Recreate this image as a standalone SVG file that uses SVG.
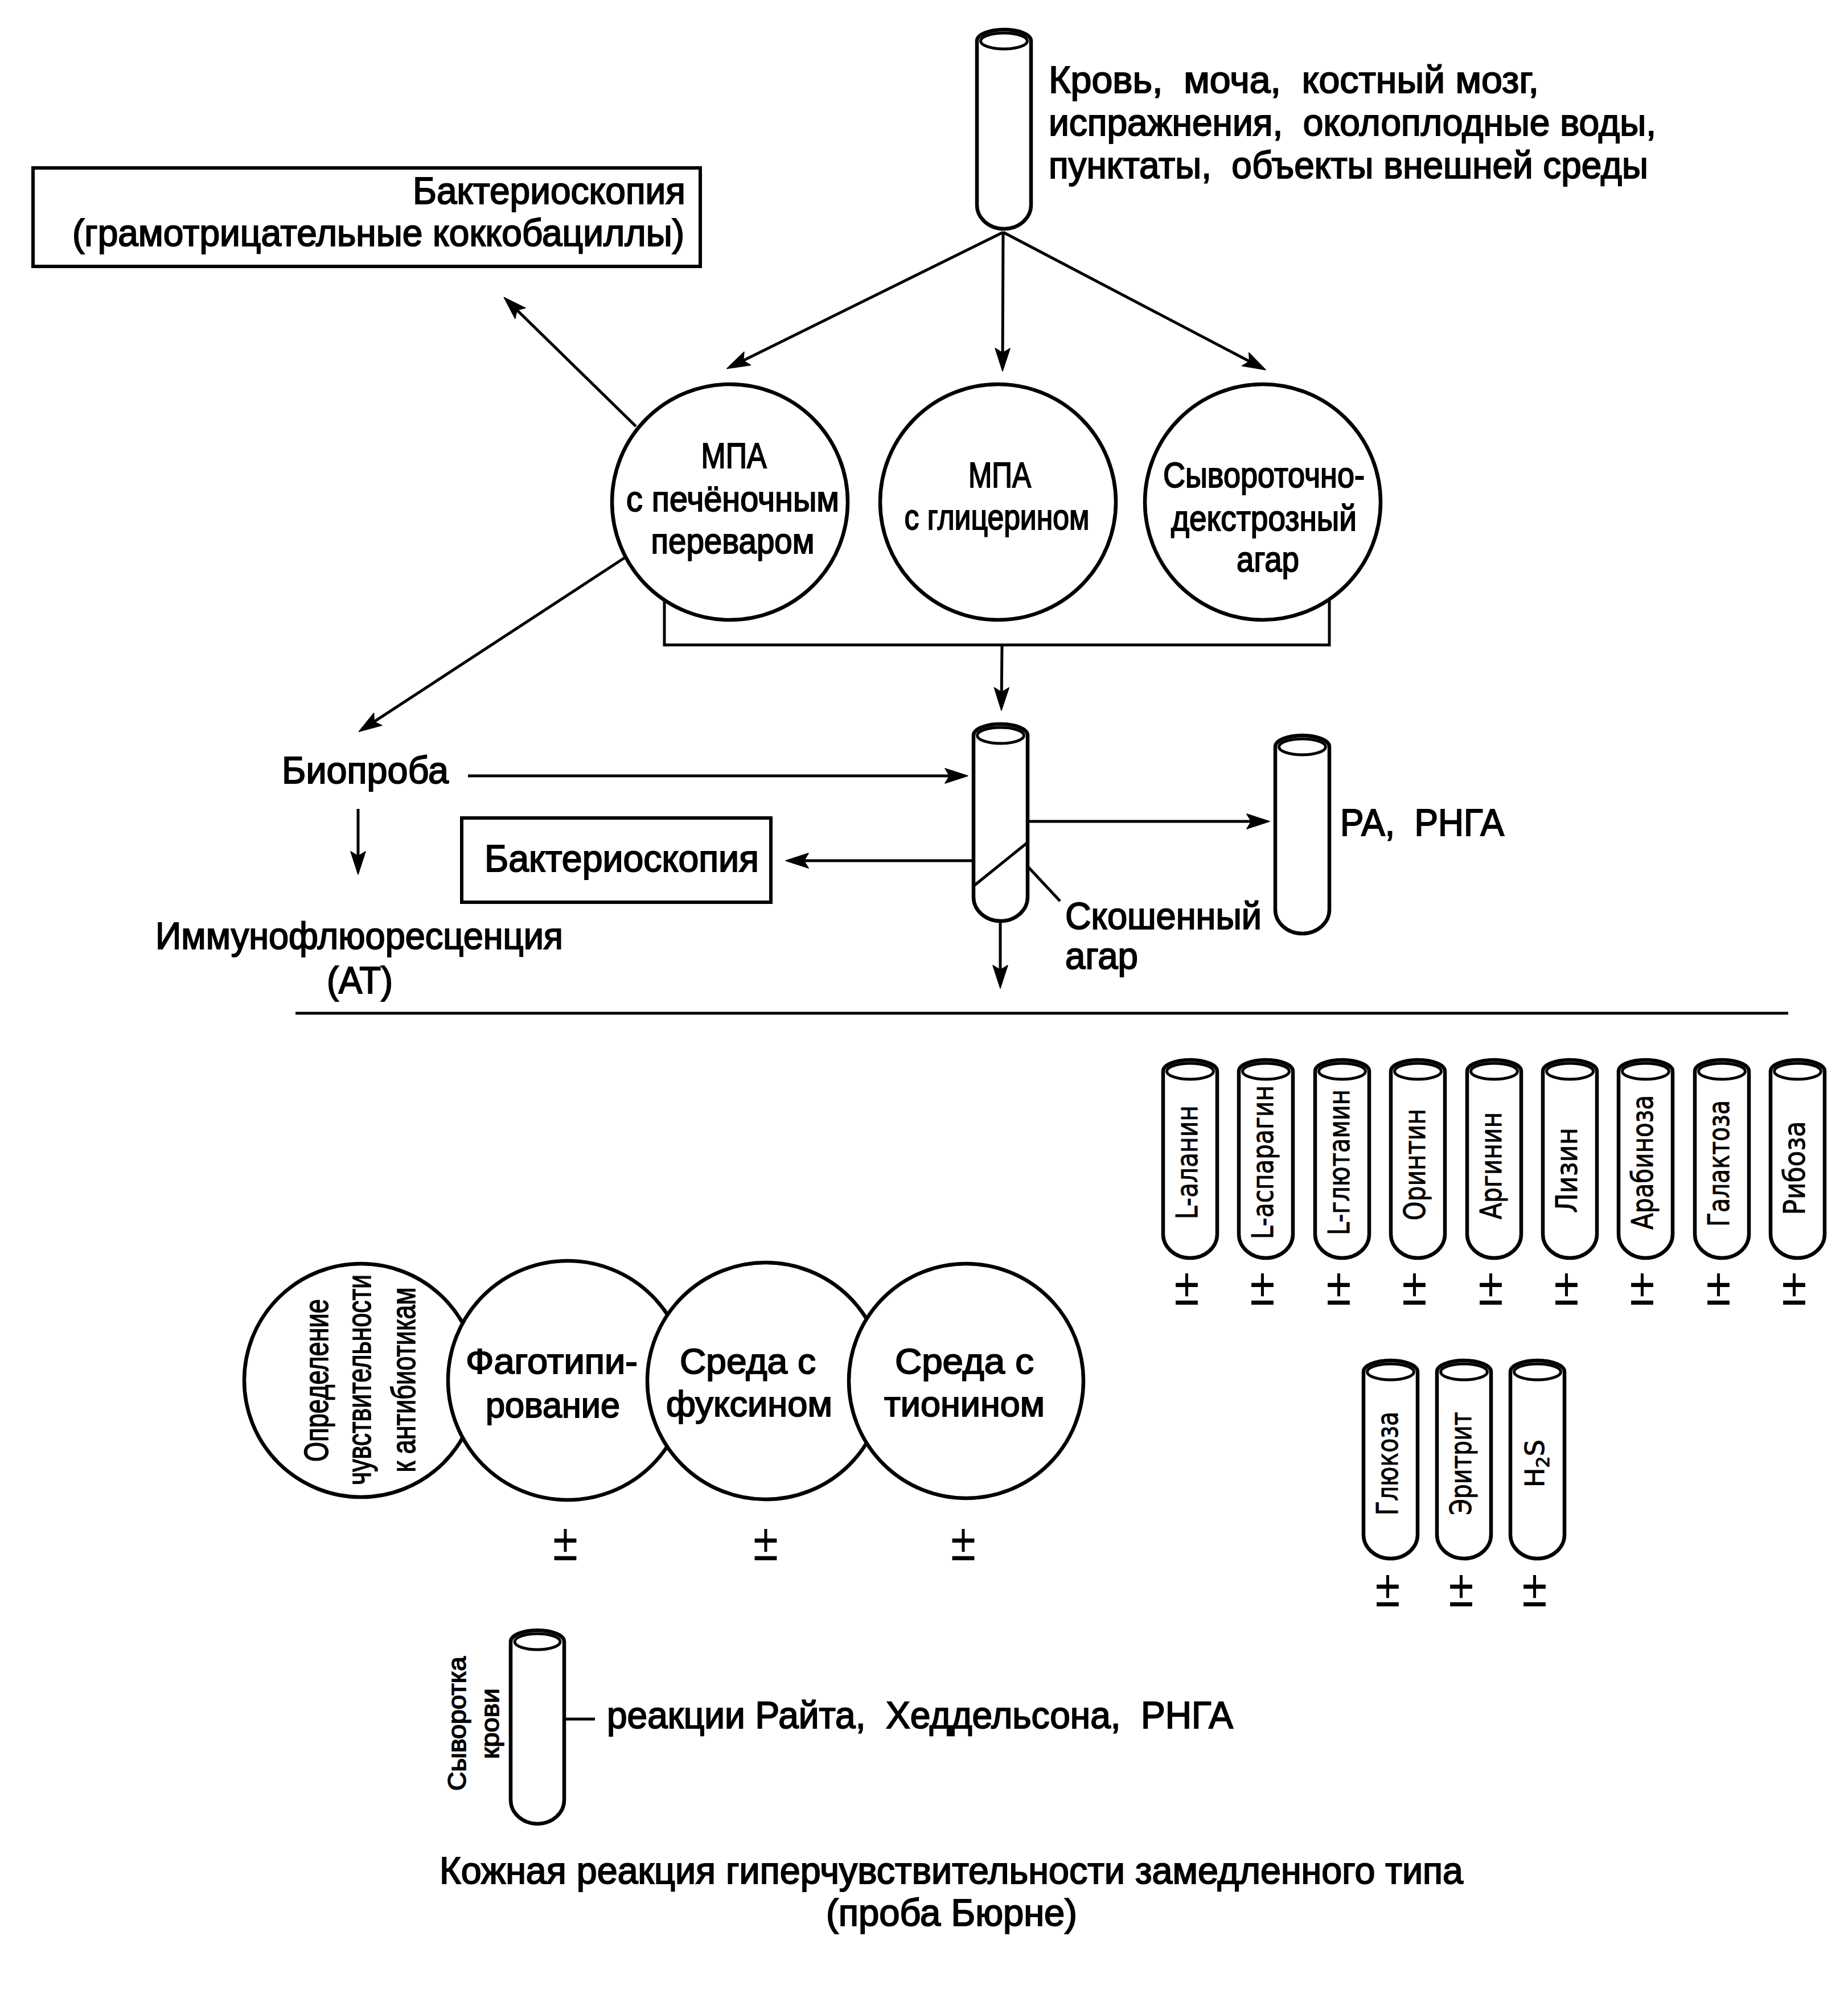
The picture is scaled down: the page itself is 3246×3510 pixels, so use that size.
<svg xmlns="http://www.w3.org/2000/svg" width="3246" height="3510" viewBox="0 0 3246 3510" xml:space="preserve">
<style>
.t{font-family:"Liberation Sans",Arial,sans-serif;font-size:66px;fill:#000;stroke:#000;stroke-width:2px;white-space:pre}
.c{font-family:"Liberation Sans",Arial,sans-serif;font-size:63px;fill:#000;stroke:#000;stroke-width:2px;white-space:pre}
.v{font-family:"Liberation Sans",Arial,sans-serif;font-size:60px;fill:#000;stroke:#000;stroke-width:1.6px}
.r{font-family:"DejaVu Sans",sans-serif;font-size:52px;fill:#000;stroke:#000;stroke-width:1px}
.sg{font-family:"DejaVu Sans",sans-serif;font-size:62px;fill:#000;text-anchor:middle}
.ln{stroke:#000;stroke-width:5;fill:none}
.ar{stroke:#000;stroke-width:5;fill:none;marker-end:url(#ah)}
.tube{fill:#fff;stroke:#000;stroke-width:6.5;stroke-linejoin:round}
.rim{fill:#fff;stroke:#000;stroke-width:5}
.circ{fill:#fff;stroke:#000;stroke-width:6.5}
.box{fill:#fff;stroke:#000;stroke-width:6}
</style>
<defs>
<marker id="ah" markerUnits="userSpaceOnUse" markerWidth="44" markerHeight="30" refX="32" refY="15" orient="auto" overflow="visible">
<path d="M0,2 L40,15 L0,28 L8,15 Z" fill="#000" stroke="#000" stroke-width="1.5" stroke-linejoin="round"/>
</marker>
</defs>
<rect width="3246" height="3510" fill="#fff"/>

<g id="connectors">
<line class="ar" x1="1762" y1="408" x2="1284" y2="644"/>
<line class="ar" x1="1762" y1="408" x2="1761" y2="644"/>
<line class="ar" x1="1762" y1="408" x2="2216" y2="646"/>
<line class="ar" x1="1117" y1="749" x2="891" y2="528"/>
<line class="ar" x1="1100" y1="978" x2="637" y2="1281"/>
<polyline class="ln" points="1167,1054 1167,1133 2335,1133 2335,1053"/>
<line class="ar" x1="1760" y1="1133" x2="1759" y2="1240"/>
<line class="ar" x1="822" y1="1363" x2="1692" y2="1363"/>
<line class="ar" x1="629" y1="1421" x2="629" y2="1528"/>
<line class="ar" x1="1710" y1="1512" x2="1388" y2="1512"/>
<line class="ar" x1="1757" y1="1618" x2="1757" y2="1728"/>
<line class="ar" x1="1805" y1="1443" x2="2222" y2="1443"/>
<line class="ln" x1="1805" y1="1522" x2="1862" y2="1583"/>
<line class="ln" x1="991" y1="3020" x2="1045" y2="3020"/>
<line class="ln" x1="519" y1="1780" x2="3141" y2="1780" stroke-width="6"/>
</g>

<g id="sample-tube">
<path class="tube" d="M1716,72 L1716,360 A47.5,42 0 0 0 1811,360 L1811,72 A47.5,20 0 0 0 1716,72 Z"/>
<ellipse class="rim" cx="1763.5" cy="72" rx="41" ry="14"/>
<text class="t" x="1842" y="163" textLength="861" lengthAdjust="spacingAndGlyphs">Кровь,  моча,  костный мозг,</text>
<text class="t" x="1842" y="238" textLength="1067" lengthAdjust="spacingAndGlyphs">испражнения,  околоплодные воды,</text>
<text class="t" x="1842" y="313" textLength="1053" lengthAdjust="spacingAndGlyphs">пунктаты,  объекты внешней среды</text>
</g>

<g id="bacterioscopy-1">
<rect class="box" x="58" y="295" width="1172" height="173"/>
<text class="t" x="1204" y="358" text-anchor="end" textLength="479" lengthAdjust="spacingAndGlyphs">Бактериоскопия</text>
<text class="t" x="1202" y="432" text-anchor="end" textLength="1075" lengthAdjust="spacingAndGlyphs">(грамотрицательные коккобациллы)</text>
</g>

<g id="mpa-liver">
<circle class="circ" cx="1282" cy="882" r="207"/>
<text class="c" x="1289" y="822" text-anchor="middle" textLength="115" lengthAdjust="spacingAndGlyphs">МПА</text>
<text class="c" x="1287" y="898" text-anchor="middle" textLength="374" lengthAdjust="spacingAndGlyphs">с печёночным</text>
<text class="c" x="1287" y="972" text-anchor="middle" textLength="287" lengthAdjust="spacingAndGlyphs">переваром</text>
</g>
<g id="mpa-glycerol">
<circle class="circ" cx="1753" cy="882" r="207"/>
<text class="c" x="1756" y="856" text-anchor="middle" textLength="110" lengthAdjust="spacingAndGlyphs">МПА</text>
<text class="c" x="1751" y="930" text-anchor="middle" textLength="325" lengthAdjust="spacingAndGlyphs">с глицерином</text>
</g>
<g id="serum-dextrose">
<circle class="circ" cx="2218" cy="882" r="207"/>
<text class="c" x="2220" y="856" text-anchor="middle" textLength="354" lengthAdjust="spacingAndGlyphs">Сывороточно-</text>
<text class="c" x="2220" y="932" text-anchor="middle" textLength="326" lengthAdjust="spacingAndGlyphs">декстрозный</text>
<text class="c" x="2227" y="1004" text-anchor="middle" textLength="110" lengthAdjust="spacingAndGlyphs">агар</text>
</g>

<g id="bioproba">
<text class="t" x="495" y="1376" textLength="293" lengthAdjust="spacingAndGlyphs">Биопроба</text>
</g>
<g id="immunofluorescence">
<text class="t" x="273" y="1667" textLength="716" lengthAdjust="spacingAndGlyphs">Иммунофлюоресценция</text>
<text class="t" x="574" y="1745" textLength="116" lengthAdjust="spacingAndGlyphs">(АТ)</text>
</g>
<g id="bacterioscopy-2">
<rect class="box" x="811" y="1437" width="543" height="148"/>
<text class="t" x="851" y="1531" textLength="482" lengthAdjust="spacingAndGlyphs">Бактериоскопия</text>
</g>

<g id="slant-tube">
<path class="tube" d="M1710,1292 L1710,1576 A47.5,42 0 0 0 1805,1576 L1805,1292 A47.5,20 0 0 0 1710,1292 Z"/>
<ellipse class="rim" cx="1757.5" cy="1292" rx="41" ry="14"/>
<line class="ln" x1="1712" y1="1555" x2="1805" y2="1480"/>
<text class="t" x="1871" y="1632" textLength="345" lengthAdjust="spacingAndGlyphs">Скошенный</text>
<text class="t" x="1871" y="1702" textLength="128" lengthAdjust="spacingAndGlyphs">агар</text>
</g>

<g id="ra-tube">
<path class="tube" d="M2240,1312 L2240,1598 A47.5,42 0 0 0 2335,1598 L2335,1312 A47.5,20 0 0 0 2240,1312 Z"/>
<ellipse class="rim" cx="2287.5" cy="1312" rx="41" ry="14"/>
<text class="t" x="2354" y="1468" textLength="288" lengthAdjust="spacingAndGlyphs">РА,  РНГА</text>
</g>

<g id="biochem-tubes">
<g id="tube-alanine"><path class="tube" d="M2043,1882 L2043,2168 A47.5,42 0 0 0 2138,2168 L2138,1882 A47.5,20 0 0 0 2043,1882 Z"/><ellipse class="rim" cx="2090.5" cy="1882" rx="41" ry="14"/>
<text class="r" transform="translate(2103,2042) rotate(-90)" text-anchor="middle" textLength="200" lengthAdjust="spacingAndGlyphs">L-аланин</text>
<text class="sg" transform="translate(2084.5,2292) scale(1,1.4)">±</text></g>
<g id="tube-asparagine"><path class="tube" d="M2176,1882 L2176,2168 A47.5,42 0 0 0 2271,2168 L2271,1882 A47.5,20 0 0 0 2176,1882 Z"/><ellipse class="rim" cx="2223.5" cy="1882" rx="41" ry="14"/>
<text class="r" transform="translate(2236,2042) rotate(-90)" text-anchor="middle" textLength="270" lengthAdjust="spacingAndGlyphs">L-аспарагин</text>
<text class="sg" transform="translate(2217.5,2292) scale(1,1.4)">±</text></g>
<g id="tube-glutamine"><path class="tube" d="M2310,1882 L2310,2168 A47.5,42 0 0 0 2405,2168 L2405,1882 A47.5,20 0 0 0 2310,1882 Z"/><ellipse class="rim" cx="2357.5" cy="1882" rx="41" ry="14"/>
<text class="r" transform="translate(2370,2042) rotate(-90)" text-anchor="middle" textLength="256" lengthAdjust="spacingAndGlyphs">L-глютамин</text>
<text class="sg" transform="translate(2351.5,2292) scale(1,1.4)">±</text></g>
<g id="tube-ornithine"><path class="tube" d="M2443,1882 L2443,2168 A47.5,42 0 0 0 2538,2168 L2538,1882 A47.5,20 0 0 0 2443,1882 Z"/><ellipse class="rim" cx="2490.5" cy="1882" rx="41" ry="14"/>
<text class="r" transform="translate(2503,2046) rotate(-90)" text-anchor="middle" textLength="196" lengthAdjust="spacingAndGlyphs">Оринтин</text>
<text class="sg" transform="translate(2484.5,2292) scale(1,1.4)">±</text></g>
<g id="tube-arginine"><path class="tube" d="M2577,1882 L2577,2168 A47.5,42 0 0 0 2672,2168 L2672,1882 A47.5,20 0 0 0 2577,1882 Z"/><ellipse class="rim" cx="2624.5" cy="1882" rx="41" ry="14"/>
<text class="r" transform="translate(2637,2048) rotate(-90)" text-anchor="middle" textLength="188" lengthAdjust="spacingAndGlyphs">Аргинин</text>
<text class="sg" transform="translate(2618.5,2292) scale(1,1.4)">±</text></g>
<g id="tube-lysine"><path class="tube" d="M2710,1882 L2710,2168 A47.5,42 0 0 0 2805,2168 L2805,1882 A47.5,20 0 0 0 2710,1882 Z"/><ellipse class="rim" cx="2757.5" cy="1882" rx="41" ry="14"/>
<text class="r" transform="translate(2770,2056) rotate(-90)" text-anchor="middle" textLength="150" lengthAdjust="spacingAndGlyphs">Лизин</text>
<text class="sg" transform="translate(2751.5,2292) scale(1,1.4)">±</text></g>
<g id="tube-arabinose"><path class="tube" d="M2843,1882 L2843,2168 A47.5,42 0 0 0 2938,2168 L2938,1882 A47.5,20 0 0 0 2843,1882 Z"/><ellipse class="rim" cx="2890.5" cy="1882" rx="41" ry="14"/>
<text class="r" transform="translate(2903,2042) rotate(-90)" text-anchor="middle" textLength="236" lengthAdjust="spacingAndGlyphs">Арабиноза</text>
<text class="sg" transform="translate(2884.5,2292) scale(1,1.4)">±</text></g>
<g id="tube-galactose"><path class="tube" d="M2977,1882 L2977,2168 A47.5,42 0 0 0 3072,2168 L3072,1882 A47.5,20 0 0 0 2977,1882 Z"/><ellipse class="rim" cx="3024.5" cy="1882" rx="41" ry="14"/>
<text class="r" transform="translate(3037,2044) rotate(-90)" text-anchor="middle" textLength="222" lengthAdjust="spacingAndGlyphs">Галактоза</text>
<text class="sg" transform="translate(3018.5,2292) scale(1,1.4)">±</text></g>
<g id="tube-ribose"><path class="tube" d="M3110,1882 L3110,2168 A47.5,42 0 0 0 3205,2168 L3205,1882 A47.5,20 0 0 0 3110,1882 Z"/><ellipse class="rim" cx="3157.5" cy="1882" rx="41" ry="14"/>
<text class="r" transform="translate(3170,2052) rotate(-90)" text-anchor="middle" textLength="165" lengthAdjust="spacingAndGlyphs">Рибоза</text>
<text class="sg" transform="translate(3151.5,2292) scale(1,1.4)">±</text></g>
</g>

<g id="sugar-tubes">
<g id="tube-glucose"><path class="tube" d="M2395,2410 L2395,2696 A47.5,42 0 0 0 2490,2696 L2490,2410 A47.5,20 0 0 0 2395,2410 Z"/><ellipse class="rim" cx="2442.5" cy="2410" rx="41" ry="14"/>
<text class="r" transform="translate(2455,2571) rotate(-90)" text-anchor="middle" textLength="182" lengthAdjust="spacingAndGlyphs">Глюкоза</text>
<text class="sg" transform="translate(2437.5,2822) scale(1,1.4)">±</text></g>
<g id="tube-erythritol"><path class="tube" d="M2524,2410 L2524,2696 A47.5,42 0 0 0 2619,2696 L2619,2410 A47.5,20 0 0 0 2524,2410 Z"/><ellipse class="rim" cx="2571.5" cy="2410" rx="41" ry="14"/>
<text class="r" transform="translate(2584,2571) rotate(-90)" text-anchor="middle" textLength="181" lengthAdjust="spacingAndGlyphs">Эритрит</text>
<text class="sg" transform="translate(2566.5,2822) scale(1,1.4)">±</text></g>
<g id="tube-h2s"><path class="tube" d="M2653,2410 L2653,2696 A47.5,42 0 0 0 2748,2696 L2748,2410 A47.5,20 0 0 0 2653,2410 Z"/><ellipse class="rim" cx="2700.5" cy="2410" rx="41" ry="14"/>
<text class="r" transform="translate(2712,2571) rotate(-90)" text-anchor="middle" style="font-size:46px">H<tspan baseline-shift="-9" style="font-size:32px">2</tspan>S</text>
<text class="sg" transform="translate(2695.5,2822) scale(1,1.4)">±</text></g>
</g>

<g id="antibiotic-sensitivity">
<circle class="circ" cx="634" cy="2425" r="205"/>
<text class="v" transform="translate(576,2425) rotate(-90)" text-anchor="middle" textLength="286" lengthAdjust="spacingAndGlyphs">Определение</text>
<text class="v" transform="translate(651,2424) rotate(-90)" text-anchor="middle" textLength="370" lengthAdjust="spacingAndGlyphs">чувствительности</text>
<text class="v" transform="translate(729,2424) rotate(-90)" text-anchor="middle" textLength="325" lengthAdjust="spacingAndGlyphs">к антибиотикам</text>
</g>
<g id="phagotyping">
<circle class="circ" cx="997" cy="2425" r="210"/>
<text class="c" x="818" y="2413" textLength="302" lengthAdjust="spacingAndGlyphs">Фаготипи-</text>
<text class="c" x="853" y="2490" textLength="236" lengthAdjust="spacingAndGlyphs">рование</text>
<text class="sg" transform="translate(993,2741) scale(1,1.4)">±</text>
</g>
<g id="fuchsin-medium">
<circle class="circ" cx="1345" cy="2426" r="208"/>
<text class="c" x="1194" y="2413" textLength="239" lengthAdjust="spacingAndGlyphs">Среда с</text>
<text class="c" x="1170" y="2488" textLength="292" lengthAdjust="spacingAndGlyphs">фуксином</text>
<text class="sg" transform="translate(1345,2741) scale(1,1.4)">±</text>
</g>
<g id="thionine-medium">
<circle class="circ" cx="1697" cy="2426" r="206"/>
<text class="c" x="1572" y="2413" textLength="244" lengthAdjust="spacingAndGlyphs">Среда с</text>
<text class="c" x="1553" y="2488" textLength="282" lengthAdjust="spacingAndGlyphs">тионином</text>
<text class="sg" transform="translate(1692,2741) scale(1,1.4)">±</text>
</g>

<g id="serum-tube">
<path class="tube" d="M897,2884 L897,3162 A47,42 0 0 0 991,3162 L991,2884 A47,20 0 0 0 897,2884 Z"/>
<ellipse class="rim" cx="944" cy="2884" rx="40" ry="14"/>
<text class="v" transform="translate(818,3028) rotate(-90)" text-anchor="middle" style="font-size:44px" textLength="236" lengthAdjust="spacingAndGlyphs">Сыворотка</text>
<text class="v" transform="translate(876,3028) rotate(-90)" text-anchor="middle" style="font-size:44px" textLength="124" lengthAdjust="spacingAndGlyphs">крови</text>
<text class="t" x="1066" y="3036" textLength="1100" lengthAdjust="spacingAndGlyphs">реакции Райта,  Хеддельсона,  РНГА</text>
</g>

<g id="skin-test">
<text class="t" x="772" y="3309" textLength="1798" lengthAdjust="spacingAndGlyphs">Кожная реакция гиперчувствительности замедленного типа</text>
<text class="t" x="1451" y="3383" textLength="441" lengthAdjust="spacingAndGlyphs">(проба Бюрне)</text>
</g>
</svg>
